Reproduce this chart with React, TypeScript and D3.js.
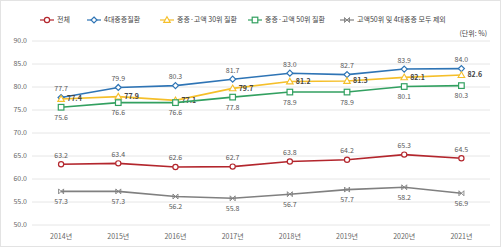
import * as d3 from "d3";
import React, { useEffect, useRef } from "react";

const years = ["2014년", "2015년", "2016년", "2017년", "2018년", "2019년", "2020년", "2021년"];
const total = [63.2, 63.4, 62.6, 62.7, 63.8, 64.2, 65.3, 64.5];
const major4 = [77.7, 79.9, 80.3, 81.7, 83.0, 82.7, 83.9, 84.0];
const top30 = [77.4, 77.9, 77.1, 79.7, 81.2, 81.3, 82.1, 82.6];
const top50 = [75.6, 76.6, 76.6, 77.8, 78.9, 78.9, 80.1, 80.3];
const excluded = [57.3, 57.3, 56.2, 55.8, 56.7, 57.7, 58.2, 56.9];
const yTicks = [50, 55, 60, 65, 70, 75, 80, 85, 90];

interface Series {
  name: string;
  values: number[];
  color: string;
  marker: "circle" | "diamond" | "triangle" | "square" | "x";
  label: "above" | "below" | "right";
}

const series: Series[] = [
  { name: "전체", values: total, color: "#b3262d", marker: "circle", label: "above" },
  { name: "4대중증질환", values: major4, color: "#2e74b5", marker: "diamond", label: "above" },
  { name: "중증·고액 30위 질환", values: top30, color: "#f5bf2a", marker: "triangle", label: "right" },
  { name: "중증·고액 50위 질환", values: top50, color: "#32a060", marker: "square", label: "below" },
  { name: "고액50위 및 4대중증 모두 제외", values: excluded, color: "#808080", marker: "x", label: "below" },
];

const legendX = [40, 87, 160, 248, 340];

const FONT = "'Noto Sans CJK KR', 'Noto Sans', sans-serif";

export default function App() {
  const svgRef = useRef<SVGSVGElement | null>(null);

  useEffect(() => {
    if (!svgRef.current) return;
    const width = 501;
    const height = 247;
    const svg = d3.select(svgRef.current);
    svg.selectAll("*").remove();

    const x = d3.scaleBand().domain(years).range([32.5, 490]);
    const y = d3.scaleLinear().domain([50, 90]).range([225, 41]);
    const cx = (i: number) => x(years[i])! + x.bandwidth() / 2;

    svg.append("rect").attr("x", 0.5).attr("y", 0.5).attr("width", width - 1).attr("height", height - 1)
      .attr("fill", "#fff").attr("stroke", "#e3e3e3");

    // grid + y labels
    const grid = svg.append("g");
    grid.selectAll("line").data(yTicks).join("line")
      .attr("x1", 32).attr("x2", 490)
      .attr("y1", (d) => y(d)).attr("y2", (d) => y(d))
      .attr("stroke", "#e6e6e6").attr("stroke-width", 1);
    grid.selectAll("text").data(yTicks).join("text")
      .attr("x", 27).attr("y", (d) => y(d)).attr("dy", "0.35em")
      .attr("text-anchor", "end").attr("font-size", 7).attr("font-family", FONT).attr("fill", "#666")
      .text((d) => d.toFixed(1));

    // x labels
    svg.append("g").selectAll("text").data(years).join("text")
      .attr("x", (_, i) => cx(i)).attr("y", 237).attr("dy", "0.35em")
      .attr("text-anchor", "middle").attr("font-size", 7).attr("font-family", FONT).attr("fill", "#666")
      .text((d) => d);

    const drawMarker = (g: d3.Selection<SVGGElement, unknown, null, undefined>, s: Series, px: number, py: number) => {
      const c = s.color;
      if (s.marker === "circle") {
        g.append("circle").attr("cx", px).attr("cy", py).attr("r", 2.6).attr("fill", "#fff").attr("stroke", c).attr("stroke-width", 1.2);
      } else if (s.marker === "diamond") {
        g.append("path").attr("d", `M${px},${py - 3}L${px + 3},${py}L${px},${py + 3}L${px - 3},${py}Z`)
          .attr("fill", "#fff").attr("stroke", c).attr("stroke-width", 1.2);
      } else if (s.marker === "triangle") {
        g.append("path").attr("d", `M${px},${py - 3.3}L${px + 3.3},${py + 2.4}L${px - 3.3},${py + 2.4}Z`)
          .attr("fill", "#fff").attr("stroke", c).attr("stroke-width", 1.1);
      } else if (s.marker === "square") {
        g.append("rect").attr("x", px - 2.8).attr("y", py - 2.8).attr("width", 5.6).attr("height", 5.6)
          .attr("fill", "#fff").attr("stroke", c).attr("stroke-width", 1.2);
      } else {
        g.append("path").attr("d", `M${px - 2.5},${py - 2.5}L${px + 2.5},${py + 2.5}M${px + 2.5},${py - 2.5}L${px - 2.5},${py + 2.5}M${px - 2.5},${py - 2.5}L${px - 2.5},${py + 2.5}M${px + 2.5},${py - 2.5}L${px + 2.5},${py + 2.5}`)
          .attr("stroke", c).attr("stroke-width", 0.9).attr("fill", "none");
      }
    };

    const line = d3.line<number>().x((_, i) => cx(i)).y((d) => y(d));

    series.forEach((s) => {
      const g = svg.append("g");
      g.append("path").attr("d", line(s.values)!).attr("fill", "none").attr("stroke", s.color).attr("stroke-width", 1.6);
      s.values.forEach((v, i) => drawMarker(g, s, cx(i), y(v)));
      g.selectAll("text").data(s.values).join("text")
        .attr("x", (_, i) => (s.label === "right" ? cx(i) + 6 : cx(i)))
        .attr("y", (d) => (s.label === "above" ? y(d) - 9 : s.label === "below" ? y(d) + 10 : y(d)))
        .attr("dy", "0.35em")
        .attr("text-anchor", s.label === "right" ? "start" : "middle")
        .attr("font-size", 7).attr("font-family", FONT)
        .attr("font-weight", s.label === "right" ? "bold" : "normal")
        .attr("fill", s.label === "right" ? "#444" : "#595959")
        .text((d) => d.toFixed(1));
    });

    // legend
    const leg = svg.append("g");
    series.forEach((s, i) => {
      const lx = legendX[i];
      const ly = 20;
      leg.append("line").attr("x1", lx).attr("x2", lx + 14).attr("y1", ly).attr("y2", ly).attr("stroke", s.color).attr("stroke-width", 1.2);
      drawMarker(leg as any, s, lx + 7, ly);
      leg.append("text").attr("x", lx + 17).attr("y", ly).attr("dy", "0.35em")
        .attr("font-size", 7).attr("font-family", FONT).attr("fill", "#444").text(s.name);
    });

    svg.append("text").attr("x", 487).attr("y", 34).attr("dy", "0.35em").attr("text-anchor", "end")
      .attr("font-size", 7).attr("font-family", FONT).attr("fill", "#444").text("(단위: %)");
  }, []);

  return (
    <svg ref={svgRef} width={501} height={247} style={{ position: "absolute", left: 0, top: 0, background: "#fff" }} />
  );
}
